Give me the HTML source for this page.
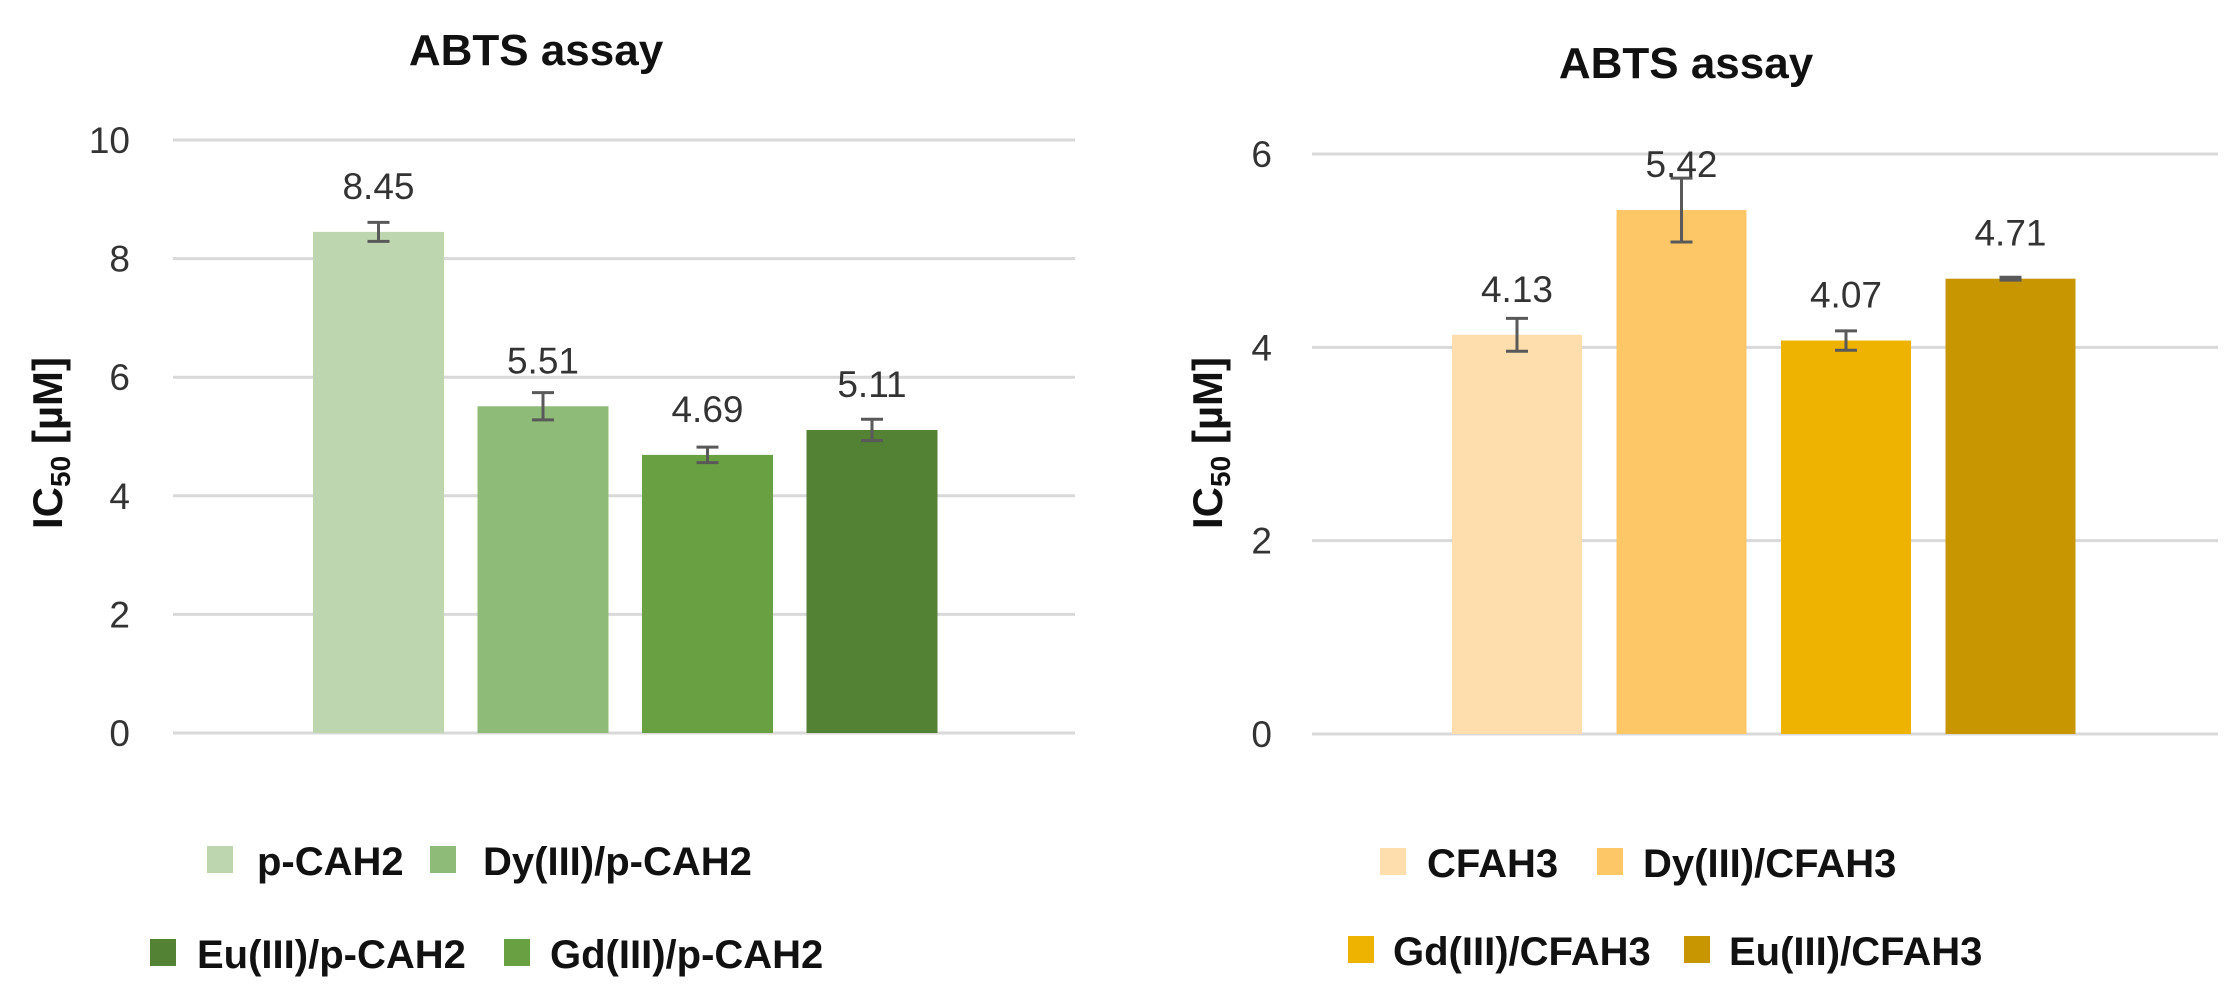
<!DOCTYPE html>
<html><head><meta charset="utf-8"><style>
html,body{margin:0;padding:0;background:#fff;}
svg{display:block;font-family:"Liberation Sans",sans-serif;}
</style></head><body>
<svg id="svg" width="2239" height="1000" viewBox="0 0 2239 1000"></svg>
<script>
const leftCategories = ["p-CAH2","Dy(III)/p-CAH2","Gd(III)/p-CAH2","Eu(III)/p-CAH2"];
const leftValues = [8.45,5.51,4.69,5.11];
const leftErrors = [0.16,0.23,0.13,0.18];
const leftLabels = ["8.45","5.51","4.69","5.11"];
const leftTicks = [0,2,4,6,8,10];
const leftColors = ["#bdd6b0","#8fbb79","#69a142","#548235"];

const rightCategories = ["CFAH3","Dy(III)/CFAH3","Gd(III)/CFAH3","Eu(III)/CFAH3"];
const rightValues = [4.13,5.42,4.07,4.71];
const rightErrors = [0.17,0.33,0.1,0.015];
const rightLabels = ["4.13","5.42","4.07","4.71"];
const rightTicks = [0,2,4,6];
const rightColors = ["#fddeac","#fdc768","#eeb200","#c89600"];

const NS="http://www.w3.org/2000/svg";
const svg=document.getElementById('svg');
function mk(tag,attrs,parent,text){const e=document.createElementNS(NS,tag);for(const k in attrs)e.setAttribute(k,attrs[k]);if(text!==undefined)e.textContent=text;(parent||svg).appendChild(e);return e;}

function drawChart(cfg){
  const g=mk('g',{});
  
  
  const y=v=>cfg.y0-(v/cfg.ymax)*(cfg.y0-cfg.yTop);
  const x=i=>cfg.barStart+i*cfg.pitch;
  const t=mk('text',{x:cfg.titleX,y:cfg.titleY,'text-anchor':'middle','font-size':44,'font-weight':'bold',fill:'#111'},g,'ABTS assay');
  
  
  cfg.ticks.forEach(v=>{
    const l=mk('line',{x1:cfg.gx1,x2:cfg.gx2,y1:y(v),y2:y(v),stroke:'#d9d9d9','stroke-width':3},g);
    
    
    const tt=mk('text',{x:cfg.tickX,y:y(v)+13,'text-anchor':'end','font-size':37,fill:'#333'},g,String(v));
    
    
  });
  const yt=mk('text',{transform:`translate(${cfg.yTitleX},443) rotate(-90)`,'text-anchor':'middle','font-size':42,'font-weight':'bold',fill:'#111'},g);
  
  
  mk('tspan',{},yt,'IC');
  mk('tspan',{'font-size':28,dy:8},yt,'50');
  mk('tspan',{dy:-8},yt,' [µM]');
  cfg.values.forEach((v,i)=>{
    const b=mk('rect',{x:x(i),y:y(v),width:cfg.barW,height:cfg.y0-y(v),fill:cfg.colors[i]},g);
    
    
    const cx=x(i)+cfg.barW/2, e=cfg.errors[i];
    const eb=mk('path',{d:`M${cx} ${y(v+e)}V${y(v-e)}M${cx-11} ${y(v+e)}H${cx+11}M${cx-11} ${y(v-e)}H${cx+11}`,stroke:'#595959','stroke-width':3,fill:'none'},g);
    
    
    const dl=mk('text',{x:cx,y:y(v)-33,'text-anchor':'middle','font-size':37,fill:'#333'},g,cfg.labels[i]);
    
    
  });
  cfg.legend.forEach(it=>{
    const s=mk('rect',{x:it.sx,y:it.by-29,width:26,height:27,fill:cfg.colors[it.i]},g);
    
    
    const lt=mk('text',{x:it.tx,y:it.by,'font-size':40,'font-weight':'bold',fill:'#111'},g,cfg.cats[it.i]);
    
    
  });
}

drawChart({name:'left-chart',titleX:536,titleY:65,y0:733,yTop:140,ymax:10,gx1:173,gx2:1075,tickX:130,yTitleX:62,
  barStart:313,pitch:164.5,barW:131,values:leftValues,errors:leftErrors,labels:leftLabels,ticks:leftTicks,colors:leftColors,cats:leftCategories,
  legend:[{i:0,sx:207,tx:257,by:875},{i:1,sx:430,tx:483,by:875},{i:3,sx:150,tx:197,by:968},{i:2,sx:504,tx:550,by:968}]});
drawChart({name:'right-chart',titleX:1686,titleY:78,y0:734,yTop:154,ymax:6,gx1:1312,gx2:2218,tickX:1272,yTitleX:1222,
  barStart:1452,pitch:164.5,barW:130,values:rightValues,errors:rightErrors,labels:rightLabels,ticks:rightTicks,colors:rightColors,cats:rightCategories,
  legend:[{i:0,sx:1380,tx:1427,by:877},{i:1,sx:1597,tx:1643,by:877},{i:2,sx:1348,tx:1393,by:965},{i:3,sx:1684,tx:1729,by:965}]});
</script>
</body></html>
